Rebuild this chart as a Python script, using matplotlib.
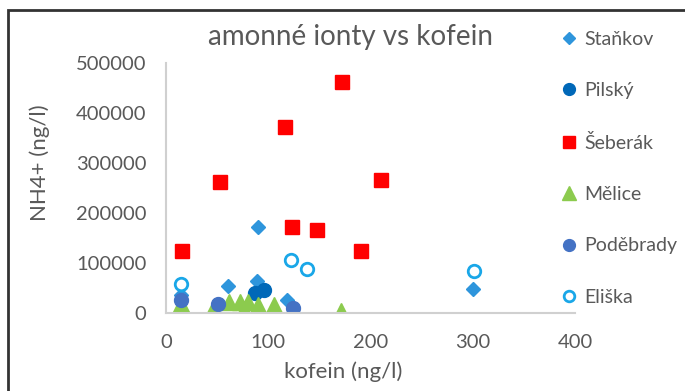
import matplotlib
matplotlib.use('Agg')
from matplotlib import pyplot as plt
from matplotlib.patches import Rectangle

plt.rcParams['font.family'] = ['Lato', 'DejaVu Sans']

# data (kofein ng/l, NH4+ ng/l)
stankov_x = [15, 61, 89, 90, 118, 300]
stankov_y = [36000, 54000, 64000, 172000, 26000, 49000]

pilsky_x = [87, 96]
pilsky_y = [40000, 46000]

seberak_x = [16, 53, 116, 172, 123, 148, 191, 210]
seberak_y = [125000, 263000, 373000, 463000, 173000, 167000, 125000, 267000]

melice_x = [15, 46, 62, 72, 76, 80, 90, 106, 171]
melice_y = [19000, 9000, 22000, 22000, 9000, 22000, 16000, 16000, 5000]

podebrady_x = [15, 51, 124]
podebrady_y = [26000, 18000, 11000]

eliska_x = [15, 122, 138, 301]
eliska_y = [59000, 107000, 89000, 84000]

gray = '#595959'

fig = plt.figure(figsize=(6.85, 3.91), dpi=100)
ax = fig.add_axes([166/685, 78/391, 409/685, 250/391])

ax.plot(stankov_x, stankov_y, 'D', ms=7, color='#2E95DC', label='Staňkov')
ax.plot(pilsky_x, pilsky_y, 'o', ms=10, color='#0068B8', label='Pilský')
ax.plot(seberak_x, seberak_y, 's', ms=10.5, color='#FF0000', label='Šeberák')
ax.plot(melice_x, melice_y, '^', ms=12, color='#8CCB4E', label='Mělice')
ax.plot(podebrady_x, podebrady_y, 'o', ms=10, color='#4472C4', label='Poděbrady')
ax.plot(eliska_x, eliska_y, 'o', ms=9, mfc='white', mec='#1AA7E8', mew=2, label='Eliška')

ax.set_xlim(0, 400)
ax.set_ylim(0, 500000)
ax.set_xticks([0, 100, 200, 300, 400])
ax.set_yticks([0, 100000, 200000, 300000, 400000, 500000])
ax.tick_params(length=0, labelsize=14.5, colors=gray)
ax.tick_params(axis='y', pad=14)
ax.tick_params(axis='x', pad=15)
for s in ['top', 'right']:
    ax.spines[s].set_visible(False)
for s in ['left', 'bottom']:
    ax.spines[s].set_color('#D0D0D0')
    ax.spines[s].set_linewidth(1.5)

fig.text(343/685, 1 - 372/391, 'kofein (ng/l)', fontsize=16, color=gray,
         ha='center', va='center')
fig.text(40/685, 1 - 163/391, 'NH4+ (ng/l)', fontsize=16, color=gray,
         ha='center', va='center', rotation=90)
fig.text(350/685, 1 - 37/391, 'amonné ionty vs kofein', fontsize=20, color=gray,
         ha='center', va='center')

handles, labels = ax.get_legend_handles_labels()
fig.legend(handles, labels, loc='upper left', bbox_to_anchor=(553/685, 1 - 23/391),
           frameon=False, fontsize=14, labelcolor=gray, labelspacing=1.77,
           handlelength=0.8, handletextpad=0.4, markerscale=0.85, borderaxespad=0)

# outer frame
fig.add_artist(Rectangle((8/685, -0.2), 1.2, 1.2 - 10/391, transform=fig.transFigure,
                         fill=False, ec='#333333', lw=2))

fig.savefig('out.png', dpi=100)
